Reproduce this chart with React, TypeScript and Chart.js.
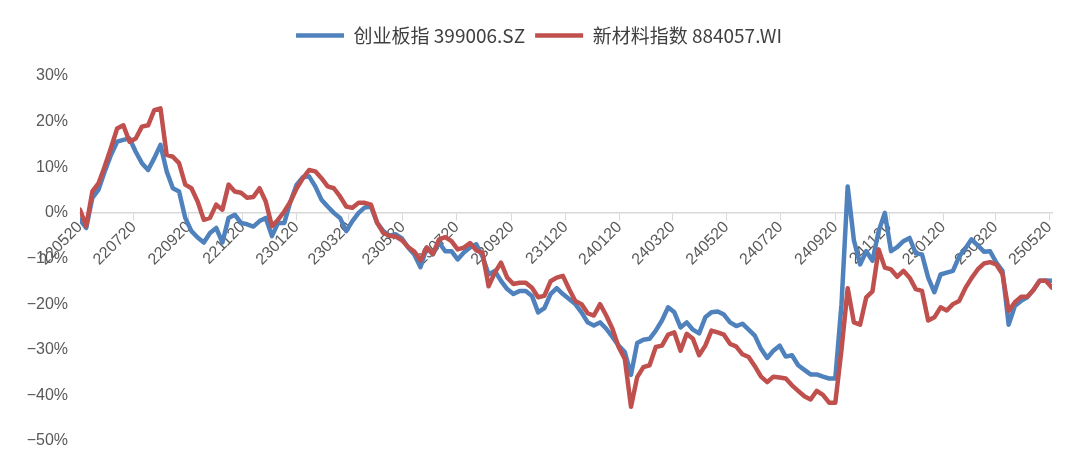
import { useEffect, useRef } from "react";
import { Chart, registerables } from "chart.js";

Chart.register(...registerables);

// tick labels on the x axis (yyMMdd), series start on the first one
const tickLabels = [
  "220520", "220720", "220920", "221120", "230120", "230320", "230520",
  "230720", "230920", "231120", "240120", "240320", "240520", "240720",
  "240920", "241120", "250120", "250320", "250520",
];

// one reading per week, in days after the first tick label
const sampleStepDays = 7;

// 创业板指 399006.SZ, cumulative change in %
const chiNext = [
  -1.5, -3.3, 3.3, 5.1, 9.1, 12.7, 15.6, 16, 16.3, 13.4,
  10.9, 9.4, 12, 14.9, 9.1, 5.4, 4.7, -1.1, -4, -5.4,
  -6.5, -4.4, -3.3, -6.5, -1.1, -0.4, -2.2, -2.5, -3, -1.8,
  -1.1, -5.1, -2.2, -2.2, 2.5, 6.2, 7.8, 8, 5.8, 2.9,
  1.4, 0, -1.1, -4, -1.8, 0, 1.2, 1.4, -2.2, -4,
  -5, -4.7, -5.6, -7.6, -9.1, -11.9, -7.6, -9.1, -6.5, -8.4,
  -8.4, -10.2, -8.7, -7.6, -6.9, -9.5, -13.5, -12.7, -14.9, -16.7,
  -17.8, -17.1, -17.1, -18.2, -21.8, -20.9, -17.8, -16.5, -17.8, -18.9,
  -20, -21.8, -24, -24.7, -24, -25.4, -27.2, -29.1, -30.5, -35.5,
  -28.5, -27.8, -27.6, -25.8, -23.6, -20.7, -21.8, -25.1, -24, -25.6,
  -26.4, -22.9, -21.8, -21.6, -22.3, -24, -24.8, -24.3, -25.6, -26.9,
  -29.8, -31.8, -30.2, -29.1, -31.5, -31.2, -33.4, -34.4, -35.4, -35.4,
  -35.9, -36.3, -36.3, -20, 5.8, -6, -11.3, -8.4, -10.5, -4,
  0, -8.4, -7.5, -6.2, -5.5, -8.9, -9.1, -14.2, -17.4, -13.5,
  -13.1, -12.7, -9.6, -7.8, -5.8, -7.1, -8.5, -8.4, -10.9, -12.7,
  -24.5, -20.4, -19.3, -18.5, -16.9, -14.9, -14.8, -14.9,
];

// 新材料指数 884057.WI, cumulative change in %
const newMaterials = [
  0.7, -2.9, 4.7, 6.5, 10.2, 14.2, 18.5, 19.2, 15.6, 16.3,
  18.9, 19.2, 22.5, 22.9, 12.7, 12.3, 10.9, 6.2, 5.4, 2.5,
  -1.5, -1.1, 1.8, 0.7, 6.2, 4.7, 4.4, 3.3, 3.5, 5.4,
  2.5, -2.9, -1.5, 0.3, 2.5, 5.4, 7.6, 9.4, 9.1, 7.6,
  5.8, 5.4, 3.6, 1.4, 1.1, 2.2, 2.2, 1.8, -2.2, -4.4,
  -5, -5.2, -6, -7.5, -8.5, -10.4, -7.6, -9, -5.8, -5.3,
  -6.2, -8, -7.6, -6.6, -8.2, -8.7, -16.1, -13.1, -10.9, -14.2,
  -15.6, -15.3, -15.3, -16.4, -18.5, -18.2, -15, -14.2, -13.8, -16.7,
  -19.3, -20, -22, -22.5, -20, -22.5, -25.4, -29.4, -32, -42.5,
  -36, -33.8, -33.4, -29.4, -29.1, -26.7, -26.2, -30.2, -26.5, -27.6,
  -31.2, -29.1, -25.8, -26.2, -26.7, -28.7, -29.3, -31, -31.6, -33.6,
  -35.9, -37.1, -35.9, -36.1, -36.3, -37.8, -39, -40.2, -40.9, -39,
  -39.9, -41.6, -41.6, -30, -16.5, -24, -24.5, -18.5, -17.2, -8,
  -12, -12.4, -14, -12.7, -14.2, -16.7, -17.1, -23.6, -22.9, -20.7,
  -21.4, -20, -19.3, -16.5, -14.3, -12.4, -11.1, -10.8, -11.3, -13.4,
  -21.5, -19.6, -18.4, -18.4, -16.9, -14.9, -14.9, -16.4,
];

const seriesNames = ["创业板指 399006.SZ", "新材料指数 884057.WI"];
const seriesColors = ["#4F81BD", "#C0504D"];

const dayOf = (label: string) =>
  Date.UTC(2000 + Number(label.slice(0, 2)), Number(label.slice(2, 4)) - 1, Number(label.slice(4, 6))) / 86400000;

const firstDay = dayOf(tickLabels[0]);
const tickDays = tickLabels.map((l) => dayOf(l) - firstDay);

const toPoints = (values: number[]) => values.map((y, i) => ({ x: i * sampleStepDays, y }));

const tickFont = { family: "'Liberation Sans', Arial, sans-serif", size: 16 };
const lineWidth = 4.5;

// push the plot area down below the legend
const legendGap = {
  id: "legendGap",
  beforeInit(chart: any) {
    const legend = chart.legend;
    if (!legend) return;
    const fit = legend.fit;
    legend.fit = function () {
      fit.call(this);
      this.height += 21;
    };
  },
};

const makeDataset = (i: number, values: number[], order: number) => ({
  label: seriesNames[i],
  data: toPoints(values),
  borderColor: seriesColors[i],
  backgroundColor: seriesColors[i],
  borderWidth: lineWidth,
  pointBorderColor: seriesColors[i],
  pointBorderWidth: lineWidth,
  pointRadius: 0,
  order,
});

export default function App() {
  const canvasRef = useRef<HTMLCanvasElement>(null);
  const chartRef = useRef<Chart | null>(null);

  useEffect(() => {
    document.body.style.margin = "0";
    if (!canvasRef.current) return;
    if (chartRef.current) chartRef.current.destroy();

    chartRef.current = new Chart(canvasRef.current, {
      type: "line",
      data: {
        // red is drawn over blue, as in the original
        datasets: [makeDataset(0, chiNext, 1), makeDataset(1, newMaterials, 0)],
      },
      options: {
        animation: false,
        responsive: true,
        maintainAspectRatio: false,
        layout: { padding: { top: 16, left: 26, right: 28, bottom: 27 } },
        elements: {
          line: { tension: 0, borderJoinStyle: "round", borderCapStyle: "round" },
        },
        plugins: {
          legend: {
            position: "top",
            labels: {
              usePointStyle: true,
              pointStyle: "line",
              pointStyleWidth: 48,
              padding: 10,
              color: "#404040",
              font: { family: "'Noto Sans CJK SC', sans-serif", size: 19 },
              sort: (a: any, b: any) => a.datasetIndex - b.datasetIndex,
            },
          },
          tooltip: { enabled: false },
        },
        scales: {
          x: {
            type: "linear",
            position: { y: 0 },
            min: 0,
            max: (chiNext.length - 1) * sampleStepDays,
            afterBuildTicks: (scale: any) => {
              scale.ticks = tickDays.map((value) => ({ value }));
            },
            ticks: {
              autoSkip: false,
              minRotation: 45,
              maxRotation: 45,
              padding: -2,
              color: "#595959",
              font: tickFont,
              callback: (_v: any, i: number) => tickLabels[i],
            },
            grid: { drawOnChartArea: false, drawTicks: true, tickLength: 7, color: "#d9d9d9" },
            border: { color: "#d9d9d9", width: 1.5 },
          },
          y: {
            min: -50,
            max: 30,
            afterFit: (scale: any) => {
              scale.width = 54;
            },
            ticks: {
              stepSize: 10,
              padding: 12,
              color: "#595959",
              font: tickFont,
              callback: (v: any) => (v < 0 ? "\u2212" + Math.abs(v) : String(v)) + "%",
            },
            grid: { display: false, drawTicks: false },
            border: { display: false },
          },
        },
      },
      plugins: [legendGap],
    } as any);

    return () => {
      if (chartRef.current) {
        chartRef.current.destroy();
        chartRef.current = null;
      }
    };
  }, []);

  return (
    <div style={{ position: "relative", width: "1080px", height: "468px", background: "#fff" }}>
      <canvas ref={canvasRef} />
    </div>
  );
}
